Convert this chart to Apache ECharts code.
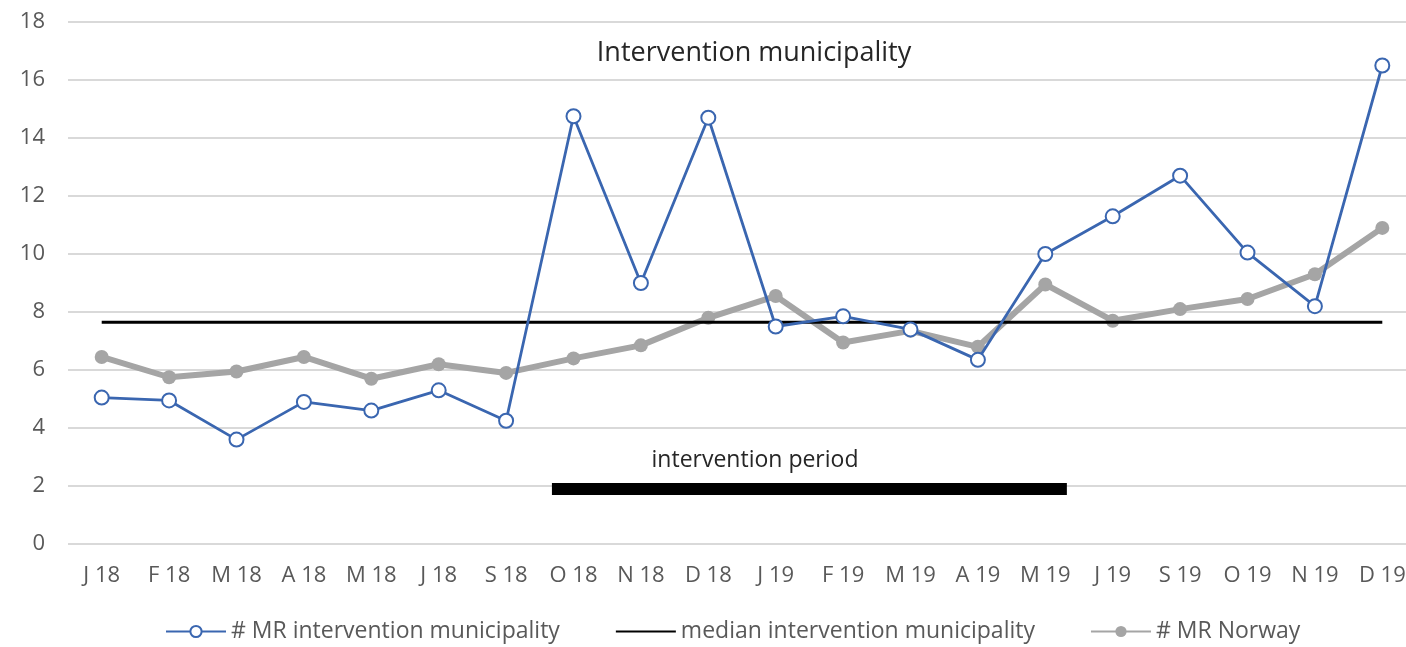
<!DOCTYPE html>
<html>
<head>
<meta charset="utf-8">
<script src="https://cdn.jsdelivr.net/npm/echarts@6/dist/echarts.min.js"></script>
<style>
  html, body { margin: 0; padding: 0; background: #fff; }
  #chart { width: 1406px; height: 647px; }
</style>
</head>
<body>
<div id="chart"></div>
<script>
// 月份（类目轴）
const months = ['J 18', 'F 18', 'M 18', 'A 18', 'M 18', 'J 18', 'S 18', 'O 18', 'N 18', 'D 18',
  'J 19', 'F 19', 'M 19', 'A 19', 'M 19', 'J 19', 'S 19', 'O 19', 'N 19', 'D 19'];

// # MR intervention municipality
const mrIntervention = [5.05, 4.95, 3.6, 4.9, 4.6, 5.3, 4.25, 14.75, 9.0, 14.7,
  7.5, 7.85, 7.4, 6.35, 10.0, 11.3, 12.7, 10.05, 8.2, 16.5];

// # MR Norway
const mrNorway = [6.45, 5.75, 5.95, 6.45, 5.7, 6.2, 5.9, 6.4, 6.85, 7.8,
  8.55, 6.95, 7.35, 6.8, 8.95, 7.7, 8.1, 8.45, 9.3, 10.9];

// 中位数
const medianValue = 7.65;

// 干预期（横条的起止位置，按类目序号）
const periodStart = 6.68;
const periodEnd = 14.32;
const periodLevel = 1.9;

// y轴刻度
const yMin = 0;
const yMax = 18;
const yStep = 2;

const FONT = 'Open Sans';

const chart = echarts.init(document.getElementById('chart'));

const option = {
  animation: false,
  backgroundColor: '#fff',
  textStyle: { fontFamily: FONT },
  grid: {
    left: 68,
    top: 22,
    width: 1348,
    height: 522,
    outerBoundsMode: 'none'
  },
  legend: {
    bottom: -1,
    left: 160,
    itemWidth: 60,
    itemHeight: 14,
    itemGap: 55,
    textStyle: { fontFamily: FONT, fontSize: 23, color: '#595959' },
    data: [
      '# MR intervention municipality',
      { name: 'median intervention municipality', itemStyle: { opacity: 0 } },
      '# MR Norway'
    ]
  },
  xAxis: [
    {
      type: 'category',
      data: months,
      boundaryGap: true,
      axisLine: { show: false },
      axisTick: { show: false },
      axisLabel: { fontFamily: FONT, fontSize: 22, color: '#595959', margin: 21, interval: 0 }
    },
    {
      // 隐藏的数值轴，用来画干预期横条
      type: 'value',
      min: -0.5,
      max: 19.5,
      show: false
    }
  ],
  yAxis: {
    type: 'value',
    min: yMin,
    max: yMax,
    interval: yStep,
    axisLine: { show: false },
    axisTick: { show: false },
    axisLabel: { fontFamily: FONT, fontSize: 22, color: '#595959', margin: 23 },
    splitLine: { lineStyle: { color: '#d9d9d9', width: 2 } }
  },
  series: [
    {
      name: '# MR Norway',
      type: 'line',
      data: mrNorway,
      symbol: 'circle',
      symbolSize: 14,
      itemStyle: { color: '#a5a5a5' },
      lineStyle: { color: '#a5a5a5', width: 6 },
      z: 2
    },
    {
      name: 'median intervention municipality',
      type: 'line',
      data: months.map(() => medianValue),
      symbol: 'none',
      itemStyle: { color: '#000' },
      lineStyle: { color: '#000', width: 3 },
      z: 3
    },
    {
      name: '# MR intervention municipality',
      type: 'line',
      data: mrIntervention,
      symbol: 'circle',
      symbolSize: 14,
      itemStyle: { color: '#fff', borderColor: '#3a66b0', borderWidth: 2 },
      lineStyle: { color: '#3a66b0', width: 2.8 },
      z: 4
    },
    {
      name: 'intervention period',
      type: 'line',
      xAxisIndex: 1,
      data: [[periodStart, periodLevel], [periodEnd, periodLevel]],
      symbol: 'none',
      lineStyle: { color: '#000', width: 12, cap: 'butt' },
      z: 3
    }
  ],
  graphic: [
    {
      type: 'text',
      x: 754,
      y: 53,
      style: {
        text: 'Intervention municipality',
        fontFamily: FONT,
        fontSize: 27,
        fill: '#262626',
        align: 'center',
        verticalAlign: 'middle'
      }
    },
    {
      type: 'text',
      x: 755,
      y: 460,
      style: {
        text: 'intervention period',
        fontFamily: FONT,
        fontSize: 23,
        fill: '#262626',
        align: 'center',
        verticalAlign: 'middle'
      }
    }
  ]
};

chart.setOption(option);
</script>
</body>
</html>
